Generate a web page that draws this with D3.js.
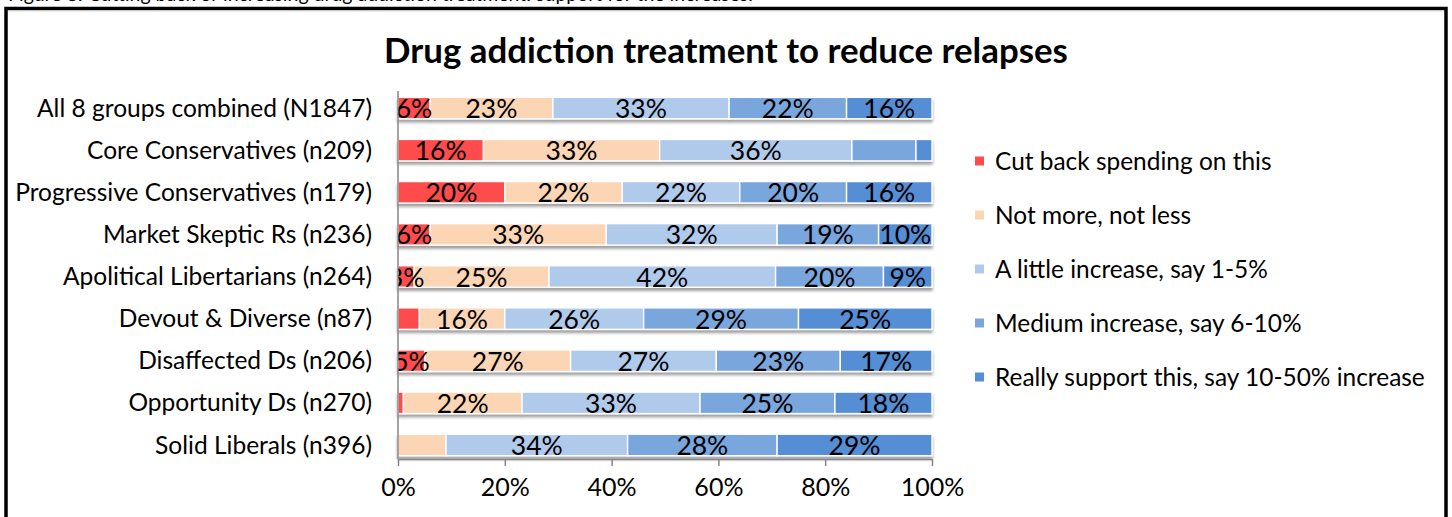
<!DOCTYPE html>
<html>
<head>
<meta charset="utf-8">
<script src="https://cdn.jsdelivr.net/npm/d3@7/dist/d3.min.js"></script>
<style>
  html, body { margin: 0; padding: 0; background: #fff; }
  svg { display: block; }
  text { font-family: Lato, "Open Sans", sans-serif; }
</style>
</head>
<body>
<svg id="chart" width="1452" height="517"></svg>
<script>
// ---- data ----
const categories = [
  "All 8 groups combined (N1847)",
  "Core Conservatives (n209)",
  "Progressive Conservatives (n179)",
  "Market Skeptic Rs (n236)",
  "Apolitical Libertarians (n264)",
  "Devout & Diverse (n87)",
  "Disaffected Ds (n206)",
  "Opportunity Ds (n270)",
  "Solid Liberals (n396)"
];
const seriesNames = [
  "Cut back spending on this",
  "Not more, not less",
  "A little increase, say 1-5%",
  "Medium increase, say 6-10%",
  "Really support this, say 10-50% increase"
];
const cutBack = [6, 16, 20, 6, 3, 4, 5, 1, 0];
const notMore = [23, 33, 22, 33, 25, 16, 27, 22, 9];
const littleIncrease = [33, 36, 22, 32, 42, 26, 27, 33, 34];
const mediumIncrease = [22, 12, 20, 19, 20, 29, 23, 25, 28];
const reallySupport = [16, 3, 16, 10, 9, 25, 17, 18, 29];
const seriesColors = ["#FF4B4B", "#FCD5B5", "#B0CAEB", "#7AA6DE", "#558ED5"];
const tickValues = [0, 0.2, 0.4, 0.6, 0.8, 1];
// data labels that are not shown in the original: [category index, series index]
const hiddenLabels = [[1, 3], [1, 4], [5, 0], [7, 0], [8, 0], [8, 1]];
const titleText = "Drug addiction treatment to reduce relapses";
const captionText = "Figure 8: Cutting back or increasing drug addiction treatment: support for the increases.";

// ---- build table ----
const seriesArrays = [cutBack, notMore, littleIncrease, mediumIncrease, reallySupport];
const rows = categories.map((c, i) => {
  const r = { category: c, idx: i };
  seriesNames.forEach((s, j) => { r[s] = seriesArrays[j][i]; });
  return r;
});
const stacked = d3.stack().keys(seriesNames).offset(d3.stackOffsetExpand)(rows);
const color = d3.scaleOrdinal().domain(seriesNames).range(seriesColors);

// ---- layout ----
const svg = d3.select("#chart");
const X0 = 398, X1 = 932, Y0 = 87, Y1 = 466, AXIS_Y = 459;
const x = d3.scaleLinear().domain([0, 1]).range([X0, X1]);
const y = d3.scaleBand().domain(categories).range([Y0, Y1]).paddingInner(0.49).paddingOuter(0.245);

function fitFont(sel, targetWidth, base) {
  sel.style("font-size", base + "px");
  let maxW = 0;
  sel.each(function () { maxW = Math.max(maxW, this.getComputedTextLength()); });
  const size = base * targetWidth / maxW;
  sel.style("font-size", size + "px");
  return size;
}

const defs = svg.append("defs");
const f = defs.append("filter").attr("id", "shadow").attr("x", "-5%").attr("y", "-30%").attr("width", "110%").attr("height", "180%");
f.append("feDropShadow").attr("dx", 0).attr("dy", 3).attr("stdDeviation", 1.6)
  .attr("flood-color", "#000").attr("flood-opacity", 0.38);
defs.append("clipPath").attr("id", "plotclip").append("rect")
  .attr("x", X0 + 0.5).attr("y", Y0 - 10).attr("width", 600).attr("height", Y1 - Y0 + 20);

// caption line (clipped at top, as in the original)
const cap = svg.append("text").attr("x", 8).attr("y", 1).text(captionText).attr("fill", "#000");
fitFont(cap, 745, 19);

// frame
svg.append("path")
  .attr("d", `M6,540 L6,8.5 L1446,8.5 L1446,540`)
  .attr("fill", "none").attr("stroke", "#000").attr("stroke-width", 3.5);
svg.append("line").attr("x1", 8).attr("x2", 1444).attr("y1", 10.8).attr("y2", 10.8)
  .attr("stroke", "#c8c8c8").attr("stroke-width", 1);

// title
const title = svg.append("text").attr("x", 726).attr("y", 63).attr("text-anchor", "middle")
  .attr("font-weight", "bold").attr("fill", "#000").text(titleText);
fitFont(title, 684, 30);

// bars
const rowG = svg.append("g").selectAll("g").data(categories).join("g")
  .attr("filter", "url(#shadow)");
rowG.each(function (cat, i) {
  d3.select(this).selectAll("rect")
    .data(stacked.map(s => ({ key: s.key, d: s[i] })))
    .join("rect")
    .attr("x", d => x(d.d[0]))
    .attr("width", d => Math.max(0, x(d.d[1]) - x(d.d[0])))
    .attr("y", y(cat))
    .attr("height", y.bandwidth())
    .attr("fill", d => color(d.key))
    .attr("stroke", d => (d.d[1] - d.d[0]) > 0 ? "#fff" : "none")
    .attr("stroke-width", 1.4);
});

// axes
svg.append("line").attr("x1", X0).attr("x2", X0).attr("y1", Y0 + 4).attr("y2", AXIS_Y)
  .attr("stroke", "#868686").attr("stroke-width", 1.5);
const axis = svg.append("g").attr("transform", `translate(0,${AXIS_Y})`)
  .call(d3.axisBottom(x).tickValues(tickValues).tickFormat(d3.format(".0%")).tickSize(7).tickSizeOuter(0).tickPadding(12));
axis.select(".domain").attr("stroke", "#868686").attr("stroke-width", 1.5);
axis.selectAll(".tick line").attr("stroke", "#868686").attr("stroke-width", 1.5);
axis.selectAll(".tick text").attr("fill", "#000").attr("font-family", null);

// category labels
const catLabels = svg.append("g").selectAll("text").data(categories).join("text")
  .attr("x", 372).attr("y", d => y(d) + y.bandwidth() / 2)
  .attr("dy", "0.35em").attr("text-anchor", "end").attr("fill", "#000").text(d => d);
const labelSize = fitFont(catLabels, 357, 20);
axis.selectAll(".tick text").style("font-size", (labelSize * 1.02) + "px").attr("dy", "0.71em");

// data labels
const hidden = new Set(hiddenLabels.map(h => h[0] + "_" + h[1]));
const lblG = svg.append("g").attr("clip-path", "url(#plotclip)");
stacked.forEach((s, j) => {
  s.forEach((d, i) => {
    const v = seriesArrays[j][i];
    if (v <= 0 || hidden.has(i + "_" + j)) return;
    lblG.append("text")
      .attr("x", (x(d[0]) + x(d[1])) / 2)
      .attr("y", y(categories[i]) + y.bandwidth() / 2)
      .attr("dy", "0.38em").attr("text-anchor", "middle").attr("fill", "#000")
      .style("font-size", (labelSize * 1.08) + "px")
      .text(v + "%");
  });
});

// legend
const legY = d3.scalePoint().domain(seriesNames).range([161, 377]);
const leg = svg.append("g").selectAll("g").data(seriesNames).join("g")
  .attr("transform", d => `translate(975,${legY(d)})`);
leg.append("rect").attr("x", 0).attr("y", -4.5).attr("width", 9).attr("height", 9).attr("fill", d => color(d));
const legText = leg.append("text").attr("x", 20).attr("dy", "0.35em").attr("fill", "#000").text(d => d);
fitFont(legText, 430, 20);
</script>
</body>
</html>
